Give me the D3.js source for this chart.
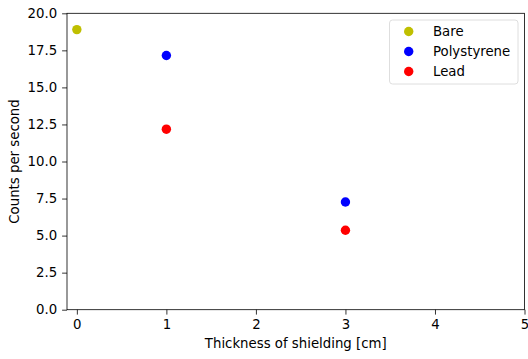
<!DOCTYPE html>
<html><head><meta charset="utf-8">
<script src="https://cdn.jsdelivr.net/npm/d3@7"></script>
<style>body{margin:0;background:#fff}svg{display:block}text{font-family:"DejaVu Sans",sans-serif}</style>
</head><body><svg id="c" width="528" height="359"></svg>
<script>
const seriesNames = ["Bare", "Polystyrene", "Lead"];
const seriesColors = ["#bfbf00", "#0000ff", "#ff0000"];
const bareX = [0], bareY = [18.9];
const polyX = [1, 3], polyY = [17.15, 7.27];
const leadX = [1, 3], leadY = [12.18, 5.36];
const xTicks = [0, 1, 2, 3, 4, 5];
const yTicks = [0, 2.5, 5, 7.5, 10, 12.5, 15, 17.5, 20];
const xLabel = "Thickness of shielding [cm]";
const yLabel = "Counts per second";

const series = [
  {name: seriesNames[0], color: seriesColors[0], xs: bareX, ys: bareY},
  {name: seriesNames[1], color: seriesColors[1], xs: polyX, ys: polyY},
  {name: seriesNames[2], color: seriesColors[2], xs: leadX, ys: leadY}
];

const L = 67, R = 524.5, T = 13.3, B = 309.7;
const svg = d3.select("#c");
const x = d3.scaleLinear().domain([-0.11, 5]).range([L, R]);
const y = d3.scaleLinear().domain([0, 20]).range([B, T]);

const xAxis = svg.append("g").attr("transform", `translate(0,${B})`)
  .call(d3.axisBottom(x).tickValues(xTicks).tickFormat(d3.format("d")).tickSizeOuter(0).tickSize(4.9).tickPadding(4.9));
const yAxis = svg.append("g").attr("transform", `translate(${L},0)`)
  .call(d3.axisLeft(y).tickValues(yTicks).tickFormat(d3.format(".1f")).tickSizeOuter(0).tickSize(4.9).tickPadding(4.9));
[xAxis, yAxis].forEach(g => {
  g.select(".domain").remove();
  g.selectAll("line").attr("stroke", "#000").attr("stroke-width", 0.8);
  g.selectAll("text").attr("font-size", 13.3).attr("fill", "#000").attr("font-family", "DejaVu Sans");
});

// spines
svg.append("rect").attr("x", L).attr("y", T).attr("width", R - L).attr("height", B - T)
  .attr("fill", "none").attr("stroke", "#000").attr("stroke-width", 0.8);

series.forEach(s => {
  svg.append("g").selectAll("circle").data(s.xs.map((v, i) => [v, s.ys[i]])).join("circle")
    .attr("cx", d => x(d[0])).attr("cy", d => y(d[1])).attr("r", 4.7).attr("fill", s.color);
});

svg.append("text").attr("x", (L + R) / 2).attr("y", 348).attr("text-anchor", "middle")
  .attr("font-size", 13.3).text(xLabel);
svg.append("text").attr("transform", `translate(19,${(T + B) / 2}) rotate(-90)`).attr("text-anchor", "middle")
  .attr("font-size", 13.3).text(yLabel);

// legend
const lg = svg.append("g");
lg.append("rect").attr("x", 389.5).attr("y", 20).attr("width", 128.5).attr("height", 64)
  .attr("rx", 3).attr("fill", "#fff").attr("fill-opacity", 0.8).attr("stroke", "#d6d6d6").attr("stroke-width", 0.8);
series.forEach((s, i) => {
  const cy = 31.5 + i * 20;
  lg.append("circle").attr("cx", 408.7).attr("cy", cy).attr("r", 4.7).attr("fill", s.color);
  lg.append("text").attr("x", 433).attr("y", cy + 4.8).attr("font-size", 13.3).text(s.name);
});
</script></body></html>
